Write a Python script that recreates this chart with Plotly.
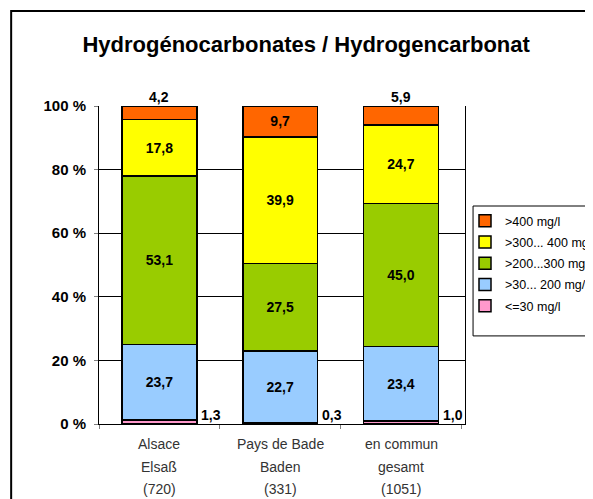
import plotly.graph_objects as go

# Data
categories = ["Alsace<br>Elsaß<br>(720)", "Pays de Bade<br>Baden<br>(331)", "en commun<br>gesamt<br>(1051)"]
series_names = ["<=30 mg/l", ">30... 200 mg/l", ">200...300 mg/l", ">300... 400 mg/l", ">400 mg/l"]
le30 = [1.3, 0.3, 1.0]
r30_200 = [23.7, 22.7, 23.4]
r200_300 = [53.1, 27.5, 45.0]
r300_400 = [17.8, 39.9, 24.7]
gt400 = [4.2, 9.7, 5.9]
ytick_vals = [0, 20, 40, 60, 80, 100]
ytick_labels = ["0 %", "20 %", "40 %", "60 %", "80 %", "100 %"]

colors = ["#FF99CC", "#99CCFF", "#99CC00", "#FFFF00", "#FF6600"]
series = [le30, r30_200, r200_300, r300_400, gt400]

def fmt(v):
    return f"{v:.1f}".replace(".", ",")

fig = go.Figure()

for i, (name, vals, col) in enumerate(zip(series_names, series, colors)):
    # small segments get their label outside the bar
    if vals is le30:
        txt = ["" for v in vals]
    elif vals is gt400:
        txt = [fmt(v) if v > 8 else "" for v in vals]
    else:
        txt = [fmt(v) for v in vals]
    fig.add_trace(go.Bar(
        x=categories,
        y=vals,
        name=name,
        legendgroup=f"g{i}",
        legendrank=1000 - i,
        text=txt,
        textposition="inside",
        insidetextanchor="middle",
        textangle=0,
        textfont=dict(size=14, color="black", weight="bold"),
        marker=dict(color=col, line=dict(color="black", width=1.5)),
        width=0.62,
    ))

# Labels outside the bars
for cat, v in zip(categories, gt400):
    if v <= 8:
        fig.add_annotation(x=cat, y=100, text=fmt(v), showarrow=False,
                           yanchor="bottom", yshift=-1,
                           font=dict(size=14, color="black", weight="bold"))
for cat, v in zip(categories, le30):
    fig.add_annotation(x=cat, y=0, text=fmt(v), showarrow=False,
                       xanchor="left", yanchor="bottom", xshift=40, yshift=-1,
                       font=dict(size=14, color="black", weight="bold"))

# Category labels, one line at a time for Excel-like line spacing
for cat in categories:
    for i, line in enumerate(cat.split("<br>")):
        fig.add_annotation(x=cat, y=0, yref="paper", text=line, showarrow=False,
                           yanchor="middle", yshift=-20 - 22.5 * i,
                           font=dict(size=14, color="#333333"))

# Outer frame
fig.add_shape(type="rect", xref="paper", yref="paper",
              x0=-0.240, y0=-1, x1=2, y1=1.299,
              line=dict(color="black", width=2))

# Legend box (drawn separately so the legend text can sit closer to the symbols)
fig.add_shape(type="rect", xref="paper", yref="paper",
              x0=1.022, y0=0.277, x1=1.6, y1=0.6855,
              line=dict(color="black", width=1))

# The page body has an 8px margin, so the figure is 8px smaller than the window
fig.update_layout(
    barmode="stack",
    barnorm="percent",
    width=585,
    height=491,
    margin=dict(l=91, r=128, t=98, b=75, autoexpand=False),
    plot_bgcolor="white",
    paper_bgcolor="white",
    font=dict(family="Liberation Sans, Arial, sans-serif", color="black"),
    title=dict(
        text="Hydrogénocarbonates / Hydrogencarbonat",
        x=0.566, xref="paper", xanchor="center",
        y=0.9267, yref="container", yanchor="middle",
        font=dict(size=22, weight="bold", color="black"),
    ),
    legend=dict(
        x=1.0, y=0.6855, xanchor="left", yanchor="top",
        traceorder="grouped",
        tracegroupgap=2,
        bgcolor="rgba(0,0,0,0)",
        borderwidth=0,
        font=dict(size=12.5),
        itemwidth=30,
    ),
    showlegend=True,
)

fig.update_xaxes(
    showline=True, linecolor="black", linewidth=1,
    ticks="outside", tickson="boundaries", ticklen=4, tickcolor="gray",
    showticklabels=False,
)
fig.update_yaxes(
    range=[0, 100],
    tickvals=ytick_vals, ticktext=ytick_labels,
    showline=True, linecolor="black", linewidth=1, mirror=True,
    showgrid=True, gridcolor="black", gridwidth=1,
    ticks="outside", ticklen=4, tickcolor="gray",
    ticklabelstandoff=5,
    tickfont=dict(size=15, weight="bold"),
    zeroline=False,
)

fig.write_html("out.html")
